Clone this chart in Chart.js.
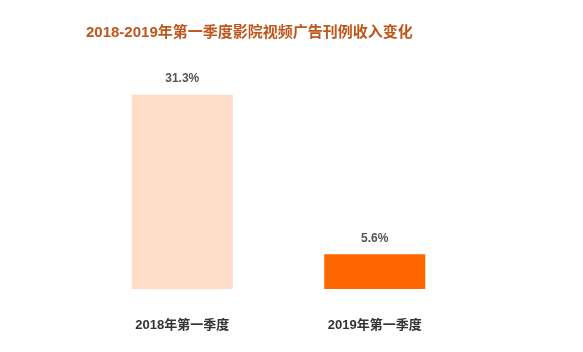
<!DOCTYPE html>
<html>
<head>
<meta charset="utf-8">
<script src="https://cdn.jsdelivr.net/npm/chart.js@4"></script>
<style>
  html, body { margin: 0; padding: 0; background: #ffffff; }
  #wrap { width: 583px; height: 352px; }
</style>
</head>
<body>
<div id="wrap"><canvas id="adChart" width="583" height="352"></canvas></div>
<script>
// Data
var categories = ["2018年第一季度", "2019年第一季度"];
var growthValues = [31.3, 5.6];
var barColors = ["#FDDDC8", "#FF6600"];

var fontFamily = "'Liberation Sans', 'Noto Sans CJK SC', sans-serif";

//  Draws the value above each bar, using the bar element positions.
var valueLabels = {
    id: 'valueLabels',
    afterDatasetsDraw: function (chart) {
        var ctx = chart.ctx;
        var meta = chart.getDatasetMeta(0);
        ctx.save();
        ctx.font = "bold 12px " + fontFamily;
        ctx.fillStyle = "#555555";
        ctx.textAlign = "center";
        ctx.textBaseline = "bottom";
        meta.data.forEach(function (bar, i) {
            ctx.fillText(growthValues[i].toFixed(1) + "%", bar.x, bar.y - 10);
        });
        ctx.restore();
    }
};

new Chart(document.getElementById('adChart'), {
    type: 'bar',
    data: {
        labels: categories,
        datasets: [{
            data: growthValues,
            backgroundColor: barColors,
            borderWidth: 0,
            barPercentage: 0.525,
            categoryPercentage: 1
        }]
    },
    options: {
        responsive: false,
        animation: false,
        layout: { padding: { left: 86, right: 112, top: 0, bottom: 18 } },
        plugins: {
            legend: { display: false },
            tooltip: { enabled: false },
            title: {
                display: true,
                text: "2018-2019年第一季度影院视频广告刊例收入变化",
                align: 'start',
                color: "#C0561B",
                font: { family: fontFamily, size: 15, weight: 'bold' },
                padding: { top: 24, bottom: 20 }
            }
        },
        scales: {
            x: {
                grid: { display: false, drawTicks: false },
                border: { display: false },
                afterFit: function (scale) { scale.height = 45; },
                ticks: {
                    padding: 29,
                    minRotation: 0,
                    maxRotation: 0,
                    color: "#333333",
                    font: { family: fontFamily, size: 13, weight: 'bold' }
                }
            },
            y: {
                display: false,
                min: 0,
                max: 36.6
            }
        }
    },
    plugins: [valueLabels]
});
</script>
</body>
</html>
